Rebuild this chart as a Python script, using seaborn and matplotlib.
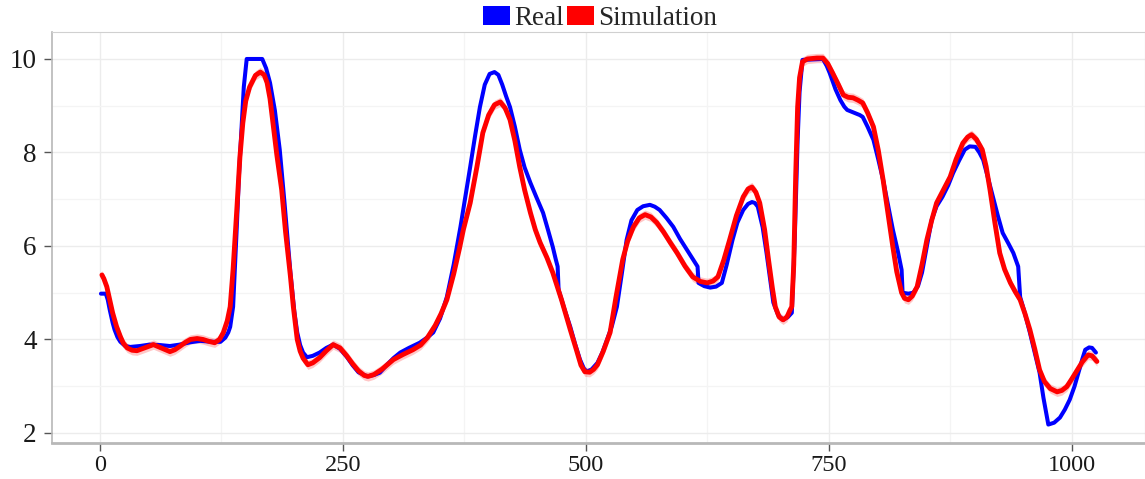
import numpy as np
import pandas as pd
import matplotlib
matplotlib.use("Agg")
import matplotlib.pyplot as plt
from matplotlib.patches import Patch
from matplotlib.ticker import MultipleLocator
import seaborn as sns

# Measured ("Real") trace
real_t = [1, 6, 8, 10, 13, 15, 18, 21, 26, 31,
          41, 51, 62, 72, 82, 93, 103, 116, 124, 129,
          132, 134, 137, 139, 141, 143, 146, 148, 151, 167,
          171, 175, 180, 185, 190, 196, 200, 203, 206, 209,
          213, 219, 226, 233, 240, 247, 254, 260, 266, 275,
          282, 288, 295, 302, 309, 318, 329, 336, 343, 350,
          357, 364, 371, 376, 381, 386, 391, 396, 401, 406,
          410, 414, 418, 422, 427, 432, 437, 443, 449, 456,
          461, 466, 469, 471, 472, 478, 484, 489, 494, 498,
          501, 506, 512, 517, 522, 527, 532, 537, 542, 547,
          553, 559, 566, 571, 576, 583, 590, 597, 604, 610,
          615, 616, 622, 628, 634, 640, 645, 651, 656, 662,
          667, 671, 674, 677, 682, 686, 690, 693, 698, 703,
          708, 712, 715, 718, 720, 723, 744, 748, 751, 757,
          762, 766, 769, 776, 782, 785, 790, 796, 801, 806,
          811, 816, 821, 825, 826, 832, 837, 842, 846, 851,
          856, 861, 867, 873, 878, 884, 890, 895, 901, 905,
          909, 914, 919, 924, 929, 935, 940, 943, 945, 947,
          952, 957, 962, 967, 971, 976, 982, 988, 993, 998,
          1003, 1007, 1011, 1014, 1018, 1021, 1025]
real_v = [4.98, 4.98, 4.85, 4.64, 4.36, 4.21, 4.05, 3.95, 3.86, 3.84,
          3.86, 3.89, 3.88, 3.86, 3.89, 3.94, 3.97, 3.95, 3.95, 4.04,
          4.15, 4.27, 4.70, 5.60, 6.50, 7.50, 8.63, 9.40, 10.0, 10.0,
          9.80, 9.49, 8.90, 8.06, 6.90, 5.43, 4.60, 4.15, 3.88, 3.72,
          3.62, 3.65, 3.72, 3.82, 3.89, 3.80, 3.63, 3.45, 3.30, 3.21,
          3.24, 3.29, 3.45, 3.60, 3.72, 3.82, 3.93, 4.03, 4.15, 4.45,
          4.91, 5.60, 6.41, 7.05, 7.69, 8.35, 8.97, 9.45, 9.68, 9.72,
          9.66, 9.45, 9.20, 8.97, 8.55, 8.06, 7.68, 7.35, 7.05, 6.71,
          6.35, 5.98, 5.72, 5.56, 5.06, 4.65, 4.27, 3.90, 3.57, 3.38,
          3.31, 3.36, 3.50, 3.72, 4.00, 4.30, 4.70, 5.40, 6.13, 6.55,
          6.77, 6.85, 6.88, 6.84, 6.77, 6.60, 6.41, 6.15, 5.92, 5.72,
          5.56, 5.21, 5.14, 5.11, 5.13, 5.21, 5.60, 6.13, 6.50, 6.77,
          6.90, 6.94, 6.92, 6.84, 6.40, 5.85, 5.25, 4.79, 4.52, 4.42,
          4.48, 4.57, 6.13, 8.27, 9.30, 9.98, 10.0, 9.85, 9.70, 9.35,
          9.12, 8.98, 8.91, 8.85, 8.80, 8.76, 8.55, 8.27, 7.85, 7.41,
          6.88, 6.35, 5.90, 5.49, 5.00, 4.98, 5.00, 5.15, 5.43, 6.00,
          6.56, 6.85, 7.05, 7.30, 7.56, 7.82, 8.06, 8.13, 8.12, 8.00,
          7.84, 7.45, 7.05, 6.65, 6.28, 6.05, 5.85, 5.68, 5.56, 4.91,
          4.55, 4.15, 3.72, 3.29, 2.75, 2.18, 2.22, 2.33, 2.50, 2.71,
          3.00, 3.29, 3.58, 3.78, 3.83, 3.82, 3.72]

# Simulated trace
sim_t = [2, 4, 7, 10, 13, 17, 21, 24, 28, 33,
         38, 46, 55, 63, 72, 77, 82, 88, 93, 100,
         106, 112, 118, 123, 127, 131, 134, 137, 141, 144,
         147, 150, 154, 160, 165, 169, 172, 175, 178, 182,
         187, 191, 196, 199, 203, 206, 209, 214, 219, 226,
         233, 240, 247, 254, 260, 266, 272, 276, 282, 290,
         302, 312, 322, 330, 337, 345, 351, 357, 364, 370,
         374, 381, 388, 394, 400, 406, 412, 417, 422, 427,
         432, 437, 443, 448, 453, 460, 466, 475, 484, 490,
         495, 499, 504, 508, 512, 518, 525, 531, 538, 543,
         549, 555, 561, 567, 573, 580, 587, 594, 602, 610,
         618, 625, 631, 636, 642, 648, 655, 662, 667, 671,
         675, 679, 684, 688, 692, 695, 699, 703, 707, 710,
         712, 714, 716, 718, 720, 723, 728, 738, 744, 749,
         754, 760, 765, 770, 775, 780, 785, 790, 796, 801,
         806, 811, 816, 820, 825, 828, 832, 836, 841, 846,
         851, 856, 861, 868, 875, 881, 888, 893, 897, 902,
         908, 912, 916, 921, 926, 931, 937, 942, 947, 952,
         957, 962, 967, 972, 978, 985, 990, 995, 1000, 1006,
         1011, 1017, 1021, 1026]
sim_v = [5.38, 5.30, 5.13, 4.85, 4.57, 4.28, 4.06, 3.92, 3.82, 3.77,
         3.76, 3.82, 3.89, 3.82, 3.74, 3.78, 3.85, 3.94, 4.00, 4.02,
         4.00, 3.96, 3.93, 4.00, 4.15, 4.40, 4.70, 5.50, 6.84, 7.90,
         8.63, 9.10, 9.40, 9.65, 9.72, 9.66, 9.49, 9.15, 8.63, 7.95,
         7.20, 6.30, 5.35, 4.70, 4.00, 3.75, 3.60, 3.46, 3.50, 3.61,
         3.76, 3.89, 3.82, 3.65, 3.48, 3.33, 3.23, 3.21, 3.25, 3.36,
         3.57, 3.68, 3.78, 3.88, 4.04, 4.30, 4.55, 4.85, 5.40, 5.95,
         6.35, 6.92, 7.70, 8.42, 8.80, 9.02, 9.08, 8.95, 8.70, 8.25,
         7.69, 7.20, 6.71, 6.35, 6.07, 5.75, 5.43, 4.85, 4.21, 3.80,
         3.45, 3.31, 3.30, 3.36, 3.46, 3.75, 4.15, 4.90, 5.71, 6.10,
         6.41, 6.60, 6.67, 6.62, 6.50, 6.30, 6.07, 5.85, 5.57, 5.34,
         5.24, 5.21, 5.25, 5.34, 5.70, 6.13, 6.65, 7.05, 7.22, 7.26,
         7.15, 6.92, 6.35, 5.71, 5.10, 4.70, 4.48, 4.42, 4.48, 4.62,
         4.70, 5.60, 7.50, 8.97, 9.60, 9.94, 10.00, 10.02, 10.02, 9.90,
         9.70, 9.45, 9.23, 9.18, 9.17, 9.12, 9.06, 8.85, 8.55, 8.05,
         7.41, 6.70, 5.98, 5.45, 5.00, 4.88, 4.85, 4.93, 5.13, 5.60,
         6.13, 6.55, 6.92, 7.20, 7.48, 7.85, 8.20, 8.33, 8.38, 8.28,
         8.06, 7.70, 7.20, 6.50, 5.85, 5.50, 5.21, 5.02, 4.85, 4.55,
         4.21, 3.80, 3.35, 3.10, 2.95, 2.88, 2.91, 2.99, 3.15, 3.35,
         3.52, 3.67, 3.65, 3.53]
sim_band = 0.10  # half-width of the simulation uncertainty ribbon

x_ticks = [0, 250, 500, 750, 1000]
y_ticks = [2, 4, 6, 8, 10]
series_names = ["Real", "Simulation"]
series_colors = {"Real": "#0000ff", "Simulation": "#ff0000"}

df = pd.concat([
    pd.DataFrame({"t": real_t, "value": real_v, "series": "Real"}),
    pd.DataFrame({"t": sim_t, "value": sim_v, "series": "Simulation"}),
], ignore_index=True)

sns.set_theme(style="white")
plt.rcParams["font.family"] = ["Liberation Serif", "DejaVu Serif"]

fig = plt.figure(figsize=(11.45, 4.79), dpi=100)
ax = fig.add_axes([0.0454, 0.0752, 0.9546, 0.858])

# uncertainty ribbon around the simulation
sim_arr = np.asarray(sim_v)
ax.fill_between(sim_t, sim_arr - sim_band, sim_arr + sim_band,
                color="#ff0000", alpha=0.22, linewidth=0, zorder=2)

sns.lineplot(data=df[df.series == "Real"], x="t", y="value", color=series_colors["Real"],
             linewidth=2.9, ax=ax, legend=False, zorder=3, sort=True)
sns.lineplot(data=df[df.series == "Simulation"], x="t", y="value",
             color=series_colors["Simulation"], linewidth=3.5, ax=ax, legend=False,
             zorder=4, sort=True)
for ln in ax.lines:
    ln.set_solid_joinstyle("round")
    ln.set_solid_capstyle("round")

ax.set_xlim(-49.4, 1075.5)
ax.set_ylim(1.786, 10.577)
ax.set_xticks(x_ticks)
ax.set_yticks(y_ticks)
ax.xaxis.set_minor_locator(MultipleLocator(125))
ax.yaxis.set_minor_locator(MultipleLocator(1))
ax.set_xlabel("")
ax.set_ylabel("")

ax.grid(which="major", color="#ececec", linewidth=1.0)
ax.grid(which="minor", color="#f4f4f4", linewidth=0.9)
ax.set_axisbelow(True)

for side in ["top", "right"]:
    ax.spines[side].set_color("#d0d0d0")
    ax.spines[side].set_linewidth(0.8)
ax.spines["left"].set_color("#b8b8b8")
ax.spines["left"].set_linewidth(1.2)
ax.spines["bottom"].set_color("#b8b8b8")
ax.spines["bottom"].set_linewidth(2.0)

ax.tick_params(axis="both", which="major", direction="out", length=6, width=1.0,
               color="#555555", labelcolor="#1a1a1a", bottom=True, left=True)
ax.tick_params(axis="y", which="major", labelsize=19.5, pad=5)
ax.tick_params(axis="x", which="major", labelsize=17.5, pad=3)
ax.tick_params(axis="both", which="minor", length=0)

handles = [Patch(facecolor=series_colors[n], edgecolor="none", label=n) for n in series_names]
fig.legend(handles=handles, loc="center", bbox_to_anchor=(0.524, 0.962), ncol=2,
           frameon=False, fontsize=19.5, handlelength=1.0, handleheight=0.75,
           handletextpad=0.15, columnspacing=0.1, borderaxespad=0)

fig.savefig("out.png", dpi=100)
